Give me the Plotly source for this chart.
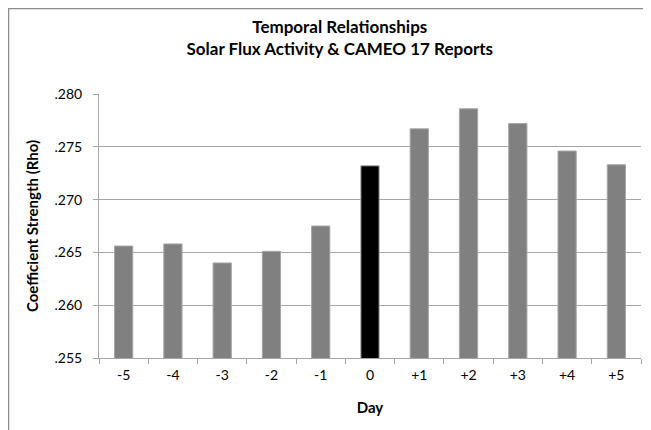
import plotly.graph_objects as go

days = ["-5", "-4", "-3", "-2", "-1", "0", "+1", "+2", "+3", "+4", "+5"]
rho = [0.2656, 0.2658, 0.2640, 0.2651, 0.2675, 0.2732, 0.2767, 0.2786, 0.2772, 0.2746, 0.2733]
y_ticks = [0.255, 0.260, 0.265, 0.270, 0.275, 0.280]
y_labels = [f"{v:.3f}"[1:] for v in y_ticks]

GREY = "#808080"
colors = ["#000000" if d == "0" else GREY for d in days]
FONT = "Lato, 'Open Sans', sans-serif"

fig = go.Figure(
    go.Bar(
        x=days,
        y=rho,
        marker=dict(color=colors, line=dict(color="#a6a6a6", width=1)),
        width=0.37,
    )
)

# page body has an 8px margin, so the figure is sized to fit inside the window
fig.update_layout(
    width=643,
    height=422,
    margin=dict(l=91, r=10, t=86, b=72),
    paper_bgcolor="white",
    plot_bgcolor="white",
    font=dict(family=FONT, size=14, color="#000000"),
    showlegend=False,
    title=dict(
        text="<b>Temporal Relationships<br>Solar Flux Activity & CAMEO 17 Reports</b>",
        x=0.516,
        xanchor="center",
        y=0.94,
        yanchor="middle",
        font=dict(family=FONT, size=17),
    ),
    shapes=[
        dict(
            type="rect", xref="paper", yref="paper",
            x0=-0.167, x1=1.05, y0=-0.4, y1=1.324,
            line=dict(color="#8c8c8c", width=1.5),
            layer="below",
        )
    ],
)

fig.update_xaxes(
    title=dict(text="<b>Day</b>", font=dict(size=15), standoff=20),
    showline=True,
    linecolor="#a6a6a6",
    ticks="outside",
    tickson="boundaries",
    ticklen=5,
    tickcolor="#a6a6a6",
    ticklabelstandoff=4,
    showgrid=False,
    automargin=False,
)
fig.update_yaxes(
    title=dict(text="<b>Coefficient Strength (Rho)</b>", font=dict(size=15), standoff=12),
    range=[0.255, 0.280],
    tickvals=y_ticks,
    ticktext=y_labels,
    showline=True,
    linecolor="#a6a6a6",
    ticks="outside",
    ticklen=5,
    tickcolor="#a6a6a6",
    ticklabelstandoff=8,
    showgrid=True,
    gridcolor="#a6a6a6",
    zeroline=False,
    automargin=False,
)

fig.write_html("out.html")
